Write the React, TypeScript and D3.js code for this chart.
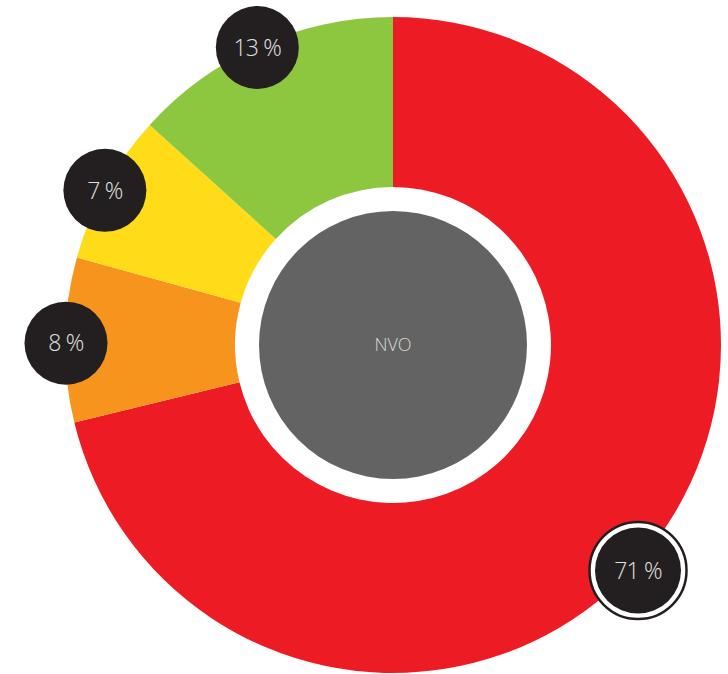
import React from "react";
import * as d3 from "d3";

const categories = ["A", "B", "C", "D"];
const values = [71.2, 8.1, 7.4, 13.3];
const labels = ["71 %", "8 %", "7 %", "13 %"];
const colors = ["#ED1C24", "#F7941D", "#FFDC17", "#8DC63F"];
const centerLabel = "NVO";

export default function App() {
  const W = 728, H = 674;
  const cx = 393, cy = 345;
  const outerR = 328, innerR = 158, coreR = 134;
  const pie = d3.pie<number>().sort(null).value((d) => d);
  const arcs = pie(values);
  const arc = d3.arc<d3.PieArcDatum<number>>().innerRadius(innerR).outerRadius(outerR);
  const font = "'Open Sans', sans-serif";
  return (
    <svg width={W} height={H} style={{ position: "absolute", left: 0, top: 0 }}>
      <g transform={`translate(${cx},${cy})`}>
        {arcs.map((a, i) => (
          <path key={categories[i]} d={arc(a) || ""} fill={colors[i]} />
        ))}
        <circle r={coreR} fill="#636363" />
        <text textAnchor="middle" dy="0.36em" fill="#d9d9d9" fontFamily={font} fontWeight={300} fontSize={18}>
          {centerLabel}
        </text>
        {arcs.map((a, i) => {
          const mid = (a.startAngle + a.endAngle) / 2 + (i === 0 ? 0.078 : -0.01);
          const r = i === 0 ? 333 : 327;
          const x = Math.sin(mid) * r;
          const y = -Math.cos(mid) * r;
          return (
            <g key={"l" + i} transform={`translate(${x},${y})`}>
              {i === 0 && <circle r={48.5} fill="#fff" stroke="#231F20" strokeWidth={2.5} />}
              <circle r={i === 0 ? 43 : 41.5} fill="#231F20" />
              <text textAnchor="middle" dy="0.36em" fill="#e0e0e0" fontFamily={font} fontWeight={300} fontSize={23} letterSpacing={-0.8}>
                {labels[i]}
              </text>
            </g>
          );
        })}
      </g>
    </svg>
  );
}
